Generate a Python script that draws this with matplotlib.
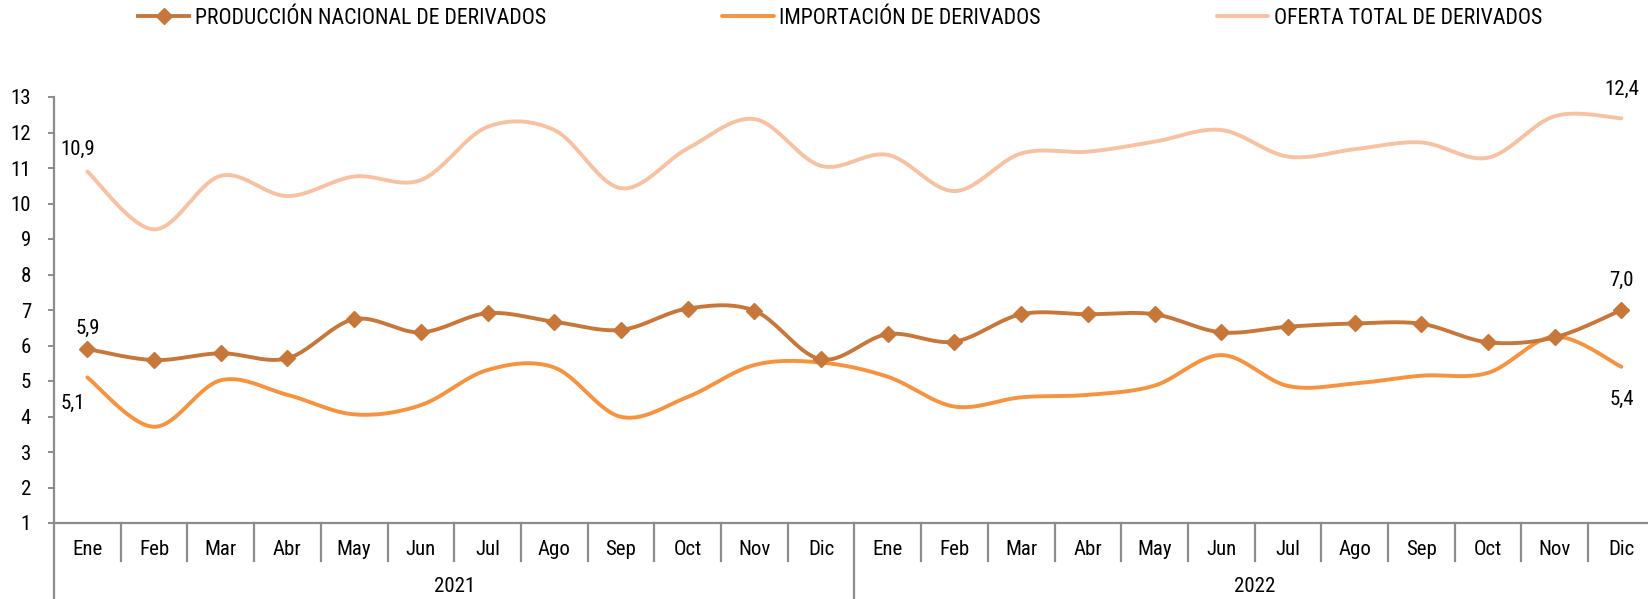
import numpy as np
import matplotlib
matplotlib.use("Agg")
import matplotlib.pyplot as plt
import matplotlib.transforms as mtransforms
from matplotlib import font_manager as fm

# pick an Arial-Narrow-like family if one is installed
have = {f.name for f in fm.fontManager.ttflist}
narrow = [f for f in ['Liberation Sans Narrow', 'Arial Narrow', 'Roboto Condensed',
                      'Archivo Narrow', 'PT Sans Narrow', 'Pragati Narrow'] if f in have]
plt.rcParams.update({
    'font.family': narrow[:1] + ['Liberation Sans', 'DejaVu Sans'],
    'font.size': 15,
})

# Data
months = ['Ene', 'Feb', 'Mar', 'Abr', 'May', 'Jun', 'Jul', 'Ago', 'Sep', 'Oct', 'Nov', 'Dic']
years = ['2021', '2022']
produccion = [5.9, 5.59, 5.78, 5.64, 6.74, 6.37, 6.91, 6.67, 6.44, 7.04, 6.98, 5.61,
              6.32, 6.11, 6.88, 6.88, 6.88, 6.37, 6.53, 6.62, 6.61, 6.09, 6.23, 7.0]
importacion = [5.1, 3.71, 5.02, 4.61, 4.06, 4.32, 5.31, 5.38, 3.99, 4.55, 5.45, 5.52,
               5.12, 4.28, 4.54, 4.61, 4.87, 5.73, 4.86, 4.93, 5.15, 5.23, 6.25, 5.4]
oferta = [10.9, 9.27, 10.78, 10.21, 10.76, 10.66, 12.16, 12.07, 10.43, 11.55, 12.38, 11.06,
          11.37, 10.35, 11.41, 11.46, 11.74, 12.07, 11.32, 11.53, 11.72, 11.29, 12.46, 12.4]

C_PROD = '#C8773A'
C_IMP = '#F7923F'
C_OF = '#F8C1A2'
GRAY = '#8C8C8C'


def smooth(y, n=24):
    """Excel-like smoothed line: cubic bezier through the points."""
    y = np.asarray(y, dtype=float)
    x = np.arange(len(y), dtype=float)
    P = np.column_stack([x, y])
    Pe = np.vstack([P[0], P, P[-1]])
    t = np.linspace(0, 1, n)[:, None]
    out = []
    for i in range(len(P) - 1):
        p0, p3 = Pe[i + 1], Pe[i + 2]
        c1 = p0 + (Pe[i + 2] - Pe[i]) / 6.0
        c2 = p3 - (Pe[i + 3] - Pe[i + 1]) / 6.0
        seg = ((1 - t) ** 3) * p0 + 3 * ((1 - t) ** 2) * t * c1 + 3 * (1 - t) * t ** 2 * c2 + t ** 3 * p3
        out.append(seg if i == 0 else seg[1:])
    s = np.vstack(out)
    return s[:, 0], s[:, 1]


W, H = 1648, 599
fig = plt.figure(figsize=(W / 100, H / 100), dpi=100)
x0, y_bot, y_top = 54, 523, 97
ax = fig.add_axes([x0 / W, 1 - y_bot / H, 1 - x0 / W, (y_bot - y_top) / H])

n = len(produccion)
xs = np.arange(n)

sx, sy = smooth(oferta)
l3, = ax.plot(sx, sy, color=C_OF, lw=2.8, solid_capstyle='round')
sx, sy = smooth(importacion)
l2, = ax.plot(sx, sy, color=C_IMP, lw=2.8, solid_capstyle='round')
sx, sy = smooth(produccion)
ax.plot(sx, sy, color=C_PROD, lw=2.8, solid_capstyle='round')
ax.plot(xs, produccion, linestyle='none', marker='D', ms=8.5, color=C_PROD)
l1, = ax.plot([], [], color=C_PROD, lw=2.8, marker='D', ms=8.5)

cat_w = 66.7
ax.set_xlim(-0.5, -0.5 + (W - x0) / cat_w)
ax.set_ylim(1, 13)
ax.set_yticks(range(1, 14))

for side in ['top', 'right']:
    ax.spines[side].set_visible(False)
for side in ['left', 'bottom']:
    ax.spines[side].set_color(GRAY)
    ax.spines[side].set_linewidth(1.6)
ax.spines['left'].set_bounds(1, 13)
ax.tick_params(axis='y', direction='out', length=4.5, width=1.4, color=GRAY, pad=12, labelsize=15)

labels = months * 2
ax.set_xticks(xs)
ax.set_xticklabels(labels)
ax.tick_params(axis='x', length=0, pad=12, labelsize=15)

ax_h = y_bot - y_top
trans = mtransforms.blended_transform_factory(ax.transData, ax.transAxes)
for i in range(n):
    b = i - 0.5
    if i == 12 or i == 0:
        ax.plot([b, b], [0, -(H - y_bot) / ax_h], transform=trans, color=GRAY, lw=1.6, clip_on=False)
    else:
        ax.plot([b, b], [0, -38 / ax_h], transform=trans, color=GRAY, lw=1.6, clip_on=False)

for k, yr in enumerate(years):
    ax.text(k * 12 + 5.5, -63 / ax_h, yr, transform=trans, ha='center', va='center', fontsize=15)

# data labels at both ends
pt = 100 / 72
lab = dict(textcoords='offset points', ha='center', va='center', fontsize=15)
ax.annotate('10,9', (0, oferta[0]), xytext=(-10 / pt, 22 / pt), **lab)
ax.annotate('5,9', (0, produccion[0]), xytext=(0, 21 / pt), **lab)
ax.annotate('5,1', (0, importacion[0]), xytext=(-15 / pt, -26 / pt), **lab)
ax.annotate('12,4', (n - 1, oferta[-1]), xytext=(0, 29 / pt), **lab)
ax.annotate('7,0', (n - 1, produccion[-1]), xytext=(0, 30 / pt), **lab)
ax.annotate('5,4', (n - 1, importacion[-1]), xytext=(0, -33 / pt), **lab)

fig.legend([l1, l2, l3],
           ['PRODUCCIÓN NACIONAL DE DERIVADOS', 'IMPORTACIÓN DE DERIVADOS', 'OFERTA TOTAL DE DERIVADOS'],
           loc='center', bbox_to_anchor=(840 / W, 1 - 18 / H), ncol=3, frameon=False,
           fontsize=15.7, handlelength=2.35, handletextpad=0.25, columnspacing=8.1)

fig.savefig('out.png', dpi=100)
